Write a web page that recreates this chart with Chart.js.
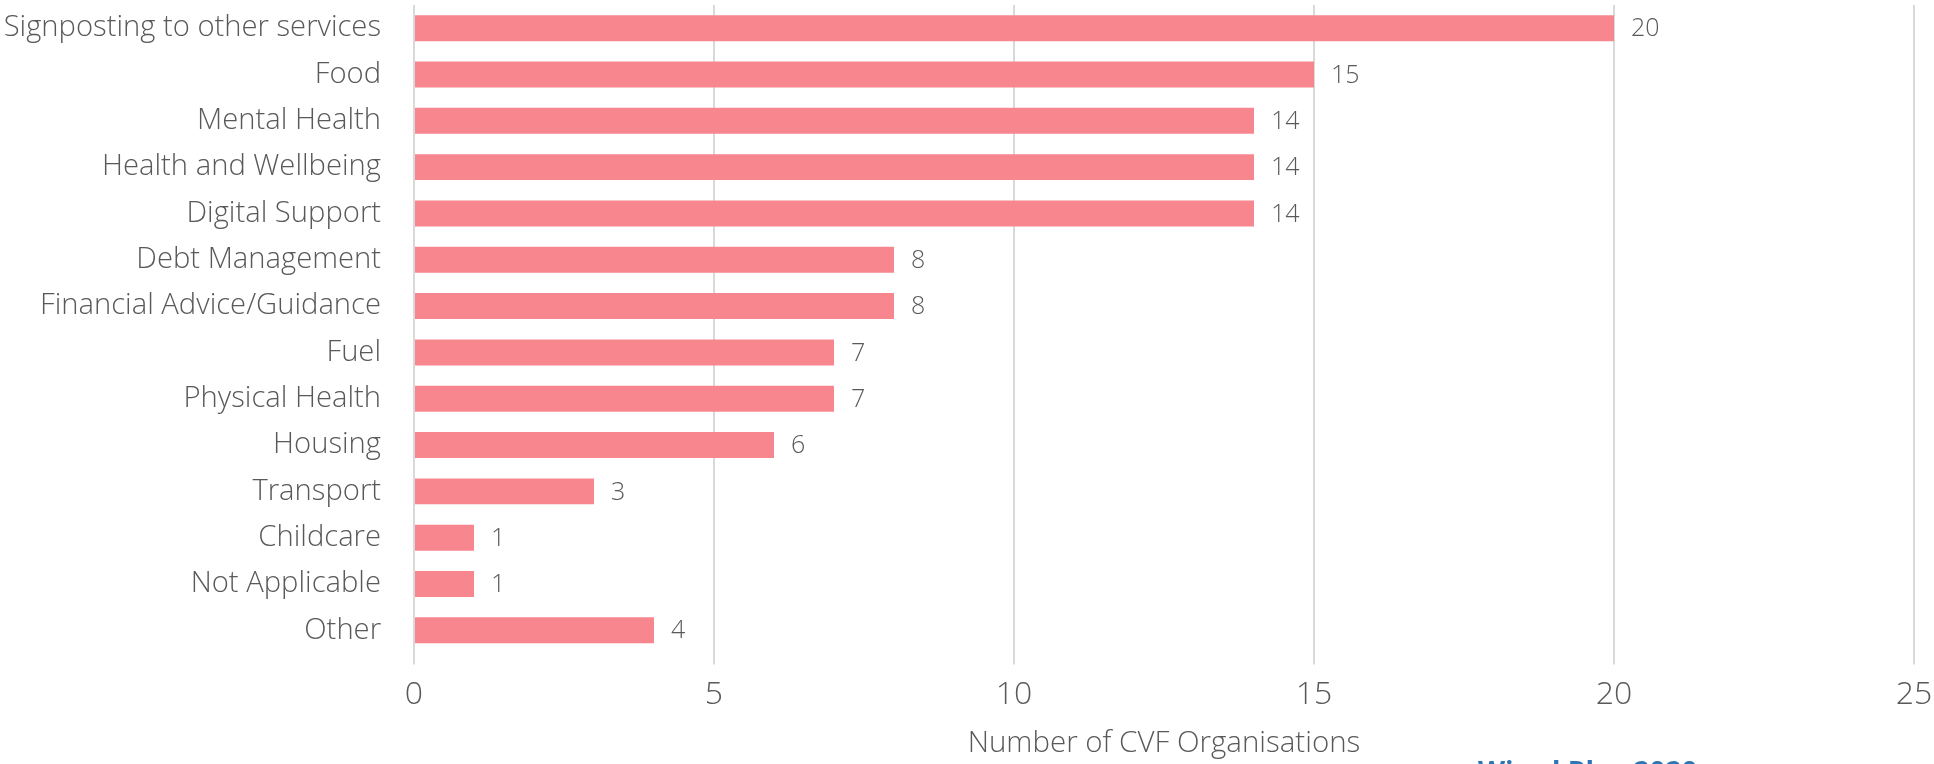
<!DOCTYPE html>
<html>
<head>
<meta charset="utf-8">
<script src="https://cdn.jsdelivr.net/npm/chart.js@4"></script>
<style>
  html, body { margin: 0; padding: 0; background: #ffffff; }
  #wrap { width: 1934px; height: 764px; position: relative; }
</style>
</head>
<body>
<div id="wrap"><canvas id="c" width="1934" height="764"></canvas></div>
<script>
const categories = [
  "Signposting to other services",
  "Food",
  "Mental Health",
  "Health and Wellbeing",
  "Digital Support",
  "Debt Management",
  "Financial Advice/Guidance",
  "Fuel",
  "Physical Health",
  "Housing",
  "Transport",
  "Childcare",
  "Not Applicable",
  "Other"
];
const values = [20, 15, 14, 14, 14, 8, 8, 7, 7, 6, 3, 1, 1, 4];
const xTicks = [0, 5, 10, 15, 20, 25];
const axisTitle = "Number of CVF Organisations";
const sourceText = "Wired Plus 2020";

const FONT = "'Open Sans', 'Noto Sans', sans-serif";
const TEXT = "#595959";

const valueLabels = {
  id: 'valueLabels',
  afterDatasetsDraw(chart) {
    const ctx = chart.ctx;
    const meta = chart.getDatasetMeta(0);
    ctx.save();
    ctx.font = "300 25px " + FONT;
    ctx.fillStyle = TEXT;
    ctx.textAlign = 'left';
    ctx.textBaseline = 'middle';
    meta.data.forEach((bar, i) => {
      ctx.fillText(String(values[i]), bar.x + 17, bar.y + 1);
    });
    ctx.restore();
  }
};

const sourcePlugin = {
  id: 'sourcePlugin',
  afterDraw(chart) {
    const ctx = chart.ctx;
    ctx.save();
    ctx.font = "bold 28px " + FONT;
    ctx.fillStyle = "#2E75B6";
    ctx.textAlign = 'left';
    ctx.textBaseline = 'alphabetic';
    ctx.fillText(sourceText, 1478, 782);
    ctx.restore();
  }
};

new Chart(document.getElementById('c'), {
  type: 'bar',
  data: {
    labels: categories,
    datasets: [{
      data: values,
      backgroundColor: '#F7868F',
      borderWidth: 0,
      categoryPercentage: 1.0,
      barPercentage: 0.56
    }]
  },
  options: {
    indexAxis: 'y',
    responsive: false,
    animation: false,
    layout: { padding: { top: 5, right: 20, left: 0, bottom: 0 } },
    plugins: {
      legend: { display: false },
      tooltip: { enabled: false }
    },
    scales: {
      x: {
        min: 0,
        max: 25,
        afterBuildTicks(scale) {
          scale.ticks = xTicks.map(v => ({ value: v }));
        },
        afterFit(scale) {
          scale.height = 110.5;
          scale.paddingLeft = 0;
          scale.paddingRight = 0;
        },
        grid: {
          color: '#D9D9D9',
          lineWidth: 2,
          tickLength: 11,
          drawTicks: true
        },
        border: { display: false },
        ticks: {
          color: TEXT,
          font: { family: FONT, size: 32, weight: 300 },
          padding: 11,
          maxRotation: 0
        },
        title: {
          display: true,
          text: axisTitle,
          color: TEXT,
          font: { family: FONT, size: 29.5, weight: 300 },
          padding: { top: 0, bottom: 3 }
        }
      },
      y: {
        afterFit(scale) {
          scale.width = 414;
          scale.paddingTop = 0;
          scale.paddingBottom = 0;
        },
        grid: { display: false, drawTicks: false },
        border: { display: false },
        ticks: {
          color: TEXT,
          font: { family: FONT, size: 29.2, weight: 300 },
          padding: 33,
          autoSkip: false
        }
      }
    }
  },
  plugins: [valueLabels, sourcePlugin]
});
</script>
</body>
</html>
